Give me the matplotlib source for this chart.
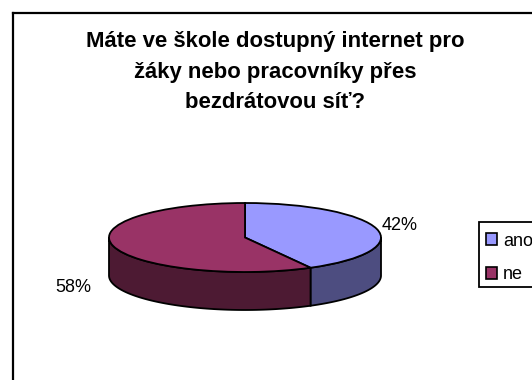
import numpy as np
import matplotlib
matplotlib.use('Agg')
import matplotlib.pyplot as plt
from matplotlib.lines import Line2D
from matplotlib.patches import Patch, Rectangle

plt.rcParams['font.family'] = ['Liberation Sans', 'DejaVu Sans']

# survey answers
title = 'Máte ve škole dostupný internet pro\nžáky nebo pracovníky přes\nbezdrátovou síť?'
categories = ['ano', 'ne']
shares = [42, 58]
top_colors = ['#9999FF', '#993366']
side_colors = ['#4D4D80', '#4D1A33']

W, H = 532, 380
fig = plt.figure(figsize=(W / 100, H / 100), dpi=100, facecolor='white')

# outer frame, runs off the right and bottom of the canvas
for xs, ys in [((12.5, 12.5), (H, 12.5)), ((12.5, W), (12.5, 12.5))]:
    fig.add_artist(Line2D([x / W for x in xs], [1 - y / H for y in ys], color='black', lw=1.6))

fig.text(275 / W, 1 - 31 / H, title, ha='center', va='top', fontsize=15.9,
         fontweight='bold', linespacing=1.6)

# squashed axes turn the round pie into an ellipse
cx, cy, rx, ry = 245, 237.5, 136, 34.5
depth = 38 / ry
ax = fig.add_axes([(cx - rx) / W, 1 - (cy + ry) / H, 2 * rx / W, 2 * ry / H])

# slice boundaries, clockwise from 12 o'clock
bounds = 90 - np.cumsum([0] + shares) * 3.6

# side wall: only the part of each slice facing the viewer
for i in range(len(shares)):
    hi, lo = bounds[i], bounds[i + 1]
    a0, a1 = max(lo, -180), min(hi, 0)
    if a1 <= a0:
        continue
    t = np.radians(np.linspace(a0, a1, 80))
    x, y = np.cos(t), np.sin(t)
    ax.fill(np.r_[x, x[::-1]], np.r_[y, y[::-1] - depth], facecolor=side_colors[i],
            edgecolor='black', lw=1.3, clip_on=False, zorder=1)

wedges, _ = ax.pie(shares, colors=top_colors, startangle=90, counterclock=False, radius=1,
                   wedgeprops=dict(edgecolor='black', linewidth=1.3, clip_on=False, zorder=2))
ax.set_aspect('auto')
ax.set_xlim(-1, 1)
ax.set_ylim(-1, 1)

fig.text(399.5 / W, 1 - 226 / H, f'{shares[0]}%', ha='center', va='center', fontsize=13)
fig.text(73 / W, 1 - 287 / H, f'{shares[1]}%', ha='center', va='center', fontsize=13)

# legend box is wider than what is left of the canvas, so it is drawn on its own
fig.add_artist(Rectangle((478.5 / W, 1 - 287 / H), 80 / W, 65 / H, transform=fig.transFigure,
                         facecolor='white', edgecolor='black', lw=1.3))
handles = [Patch(facecolor=c, edgecolor='black', lw=1.2) for c in top_colors]
fig.legend(handles, categories, loc='upper left', bbox_to_anchor=(477 / W, 1 - 223.5 / H),
           fontsize=13, frameon=False, borderaxespad=0, borderpad=0.5, handlelength=0.6,
           handleheight=0.6, handletextpad=0.33, labelspacing=0.92)

fig.savefig('out.png', dpi=100)
